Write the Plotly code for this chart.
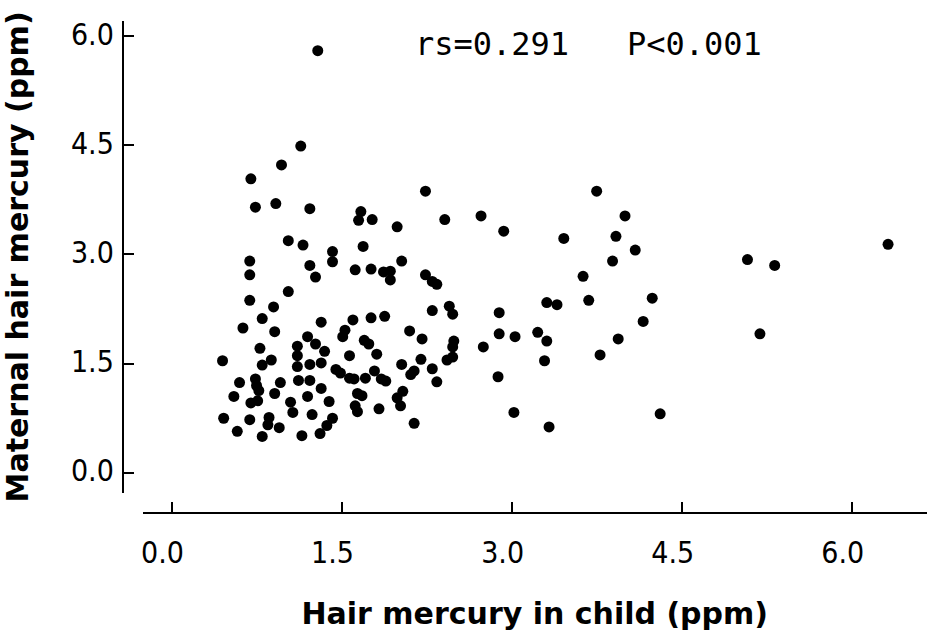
import plotly.graph_objects as go

# Child hair mercury (ppm)
child_hg = [
    1.29,
    1.14, 0.97, 0.70, 2.24, 3.75, 0.74, 0.92, 1.22, 1.67, 1.65, 1.77, 1.99, 2.41,
    1.03, 1.16, 1.42, 1.42, 1.69, 0.69, 0.69, 1.22, 1.27, 1.62, 1.76, 1.87, 1.93,
    1.93, 2.03, 2.24, 2.30, 2.34, 1.03,
    0.69, 0.90, 0.80, 0.63, 0.91, 1.32, 1.60, 1.76, 1.88, 2.30, 2.45, 2.48, 1.53,
    1.51, 1.20, 1.27, 1.35, 1.11, 1.11, 1.11, 1.22, 1.32, 0.78, 0.88, 0.80, 0.45,
    1.70, 1.74, 1.81, 1.57, 2.10, 2.21, 2.20, 2.03, 2.14, 2.11, 2.30, 2.34, 2.43,
    2.48, 2.49, 2.48, 1.45, 1.49, 1.57, 1.61, 1.71, 1.79, 1.85, 1.89, 1.12, 1.22,
    1.32, 0.96, 0.60, 0.74, 0.75, 0.77, 0.55, 0.91, 0.70, 0.76, 1.05, 1.07, 1.20,
    1.39, 1.64, 1.68, 1.62, 1.64, 1.83, 1.99, 2.04, 2.02, 2.14, 0.46, 0.69, 0.86,
    0.85, 0.95, 0.58, 0.80, 1.24, 1.15, 1.42, 1.37, 1.31,
    2.73, 2.93, 3.46, 4.00, 3.92, 4.09, 3.89, 3.63, 6.32, 5.08, 5.32, 2.89, 3.31,
    3.40, 3.68, 4.24, 4.16, 2.75, 2.89, 3.03, 3.23, 3.31, 3.29, 2.88, 3.94, 3.78,
    5.19, 3.02, 3.33, 4.31,
]

# Maternal hair mercury (ppm)
mother_hg = [
    5.80,
    4.49, 4.23, 4.04, 3.87, 3.87, 3.65, 3.70, 3.63, 3.59, 3.47, 3.48, 3.38, 3.48,
    3.19, 3.13, 3.04, 2.90, 3.11, 2.91, 2.72, 2.85, 2.69, 2.79, 2.80, 2.76, 2.77,
    2.65, 2.91, 2.72, 2.63, 2.59, 2.49,
    2.37, 2.28, 2.12, 1.99, 1.94, 2.07, 2.10, 2.13, 2.15, 2.23, 2.29, 2.18, 1.96,
    1.87, 1.87, 1.77, 1.67, 1.74, 1.61, 1.46, 1.49, 1.51, 1.71, 1.55, 1.48, 1.54,
    1.82, 1.77, 1.63, 1.61, 1.95, 1.84, 1.56, 1.49, 1.40, 1.35, 1.43, 1.25, 1.55,
    1.59, 1.81, 1.73, 1.42, 1.37, 1.30, 1.29, 1.30, 1.40, 1.29, 1.26, 1.27, 1.27,
    1.16, 1.24, 1.24, 1.29, 1.20, 1.13, 1.05, 1.09, 0.96, 0.99, 0.97, 0.83, 1.05,
    0.98, 1.09, 1.06, 0.92, 0.84, 0.88, 1.03, 1.12, 0.92, 0.68, 0.75, 0.73, 0.76,
    0.66, 0.62, 0.57, 0.50, 0.80, 0.51, 0.75, 0.65, 0.54,
    3.53, 3.32, 3.22, 3.53, 3.25, 3.06, 2.91, 2.70, 3.14, 2.93, 2.85, 2.20, 2.34,
    2.31, 2.37, 2.40, 2.08, 1.73, 1.91, 1.87, 1.93, 1.81, 1.54, 1.32, 1.84, 1.62,
    1.91, 0.83, 0.63, 0.81,
]

tick_vals = [0.0, 1.5, 3.0, 4.5, 6.0]
tick_text = ["0.0", "1.5", "3.0", "4.5", "6.0"]
stat_text = "rs=0.291   P<0.001"

W, H = 928, 631
tick_font = dict(family="Liberation Sans Narrow, DejaVu Sans Condensed, Liberation Sans", size=30, color="black")
title_font = dict(family="DejaVu Sans", size=30, color="black")

fig = go.Figure()
fig.add_trace(go.Scatter(
    x=child_hg, y=mother_hg, mode="markers",
    marker=dict(size=11, color="black", line=dict(width=0)),
    cliponaxis=False, showlegend=False,
))

fig.update_layout(
    width=W, height=H,
    margin=dict(l=0, r=0, t=0, b=0),
    paper_bgcolor="white", plot_bgcolor="white",
    xaxis=dict(
        domain=[141.7 / W, 927 / W], range=[-0.2555, 6.6635],
        anchor="free", position=(H - 522) / H,
        showline=True, linecolor="black", linewidth=2,
        showgrid=False, zeroline=False,
        ticks="inside", ticklen=10, tickwidth=2, tickcolor="black",
        tickvals=tick_vals, ticktext=tick_text, tickfont=tick_font,
        ticklabelshift=-9, ticklabelstandoff=13,
        title=dict(text="<b>Hair mercury in child (ppm)</b>", font=title_font, standoff=40),
    ),
    yaxis=dict(
        domain=[(H - 502) / H, (H - 17) / H], range=[-0.281, 6.214],
        anchor="free", position=122 / W,
        showline=True, linecolor="black", linewidth=2,
        showgrid=False, zeroline=False,
        ticks="inside", ticklen=10, tickwidth=2, tickcolor="black",
        tickvals=tick_vals, ticktext=tick_text, tickfont=tick_font,
        ticklabelstandoff=2, ticklabelshift=-2,
        title=dict(text="<b>Maternal hair mercury (ppm)</b>", font=title_font, standoff=36),
    ),
    annotations=[dict(
        text=stat_text, xref="paper", yref="paper",
        x=412 / W, y=(H - 41) / H, xanchor="left", yanchor="middle",
        showarrow=False,
        font=dict(family="DejaVu Sans Mono", size=32, color="black"),
    )],
)

fig.write_html("out.html")
